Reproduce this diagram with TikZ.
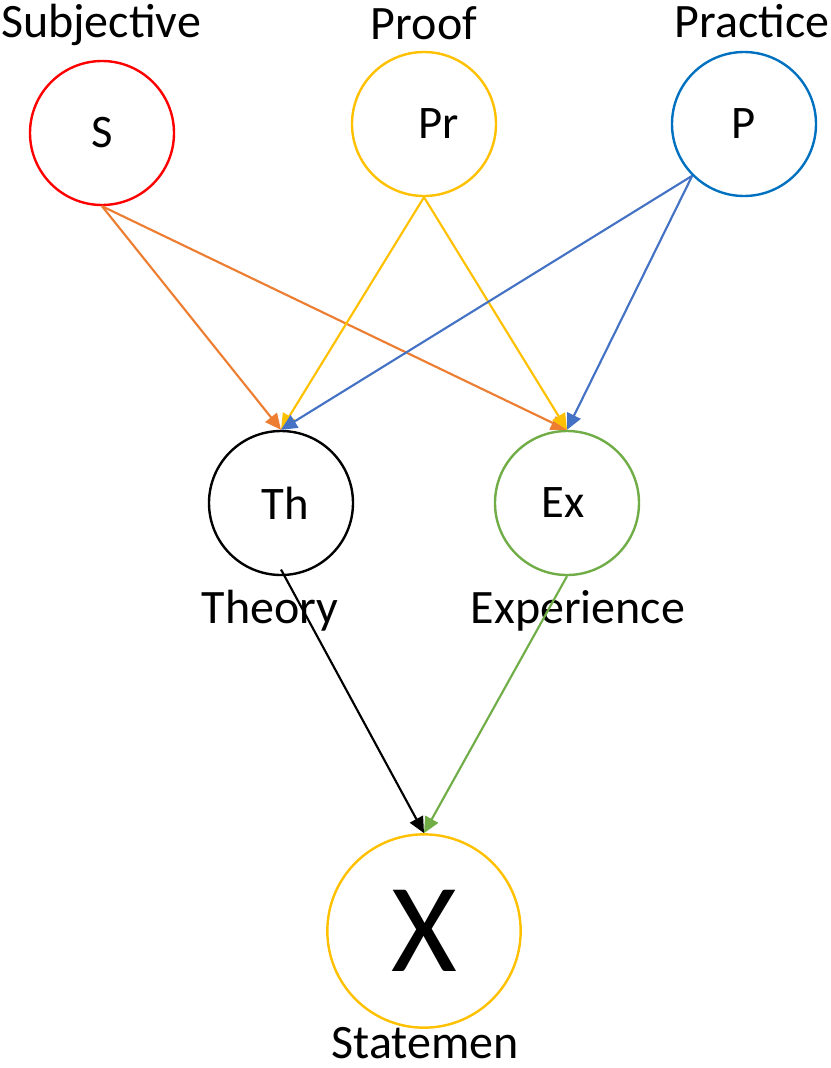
\documentclass[tikz,border=0pt]{standalone}
\usepackage{fontspec}
\setmainfont{Carlito}
\usetikzlibrary{arrows.meta,positioning}
\definecolor{Ruby}{HTML}{FF0000}
\definecolor{Amber}{HTML}{FFC000}
\definecolor{Ocean}{HTML}{0070C0}
\definecolor{Carrot}{HTML}{ED7D31}
\definecolor{Steel}{HTML}{4472C4}
\definecolor{Leaf}{HTML}{70AD47}

\begin{document}
\begin{tikzpicture}[x=0.75pt,y=-0.75pt,
    ring/.style={circle,draw,line width=1.8pt,minimum size=108pt,inner sep=0pt,font=\fontsize{35}{40}\selectfont},
    tag/.style={anchor=base,inner sep=0pt,font=\fontsize{36}{40}\selectfont},
    link/.style={line width=1.6pt,-{Triangle[length=12pt,width=11pt]}}]
        \useasboundingbox (0,0) rectangle (831,1068);

        % sources
        \node[ring,draw=Ruby] (S) at (102,133) {S};
        \node[ring,draw=Amber] (Pr) at (424,124) {\hspace*{22pt}Pr};
        \node[ring,draw=Ocean] (P) at (744,124) {P};
        \node[tag] (lS) at (101,37) {Subjective};
        \node[tag] (lPr) at (424,39) {Proof};
        \node[tag] (lP) at (752,37) {Practice};

        % middle
        \node[ring,draw=black] (Th) at (281,503) {\hspace*{6pt}Th};
        \node[ring,draw=Leaf] (Ex) at (567,503) {Ex\hspace*{6pt}};
        \node[tag] (lTh) at (270,623) {Theory};
        \node[tag] (lEx) at (578,623) {Experience};

        % statement
        \node[ring,draw=Amber,minimum size=145pt,font=\fontsize{95}{100}\selectfont] (X) at (424,931) {X};
        \node[tag] (lX) at (425,1058) {Statemen};

        \draw[link,Carrot] (S.south) -- (Th.north);
        \draw[link,Carrot] (S.south) -- (Ex.north);
        \draw[link,Amber] (Pr.south) -- (Th.north);
        \draw[link,Amber] (Pr.south) -- (Ex.north);
        \draw[link,Steel] (P.south west) -- (Th.north);
        \draw[link,Steel] (P.south west) -- (Ex.north);
        \draw[link,black] ([yshift=5pt]Th.south) -- (X.north);
        \draw[link,Leaf] (Ex.south) -- (X.north);
      \end{tikzpicture}
\end{document}
